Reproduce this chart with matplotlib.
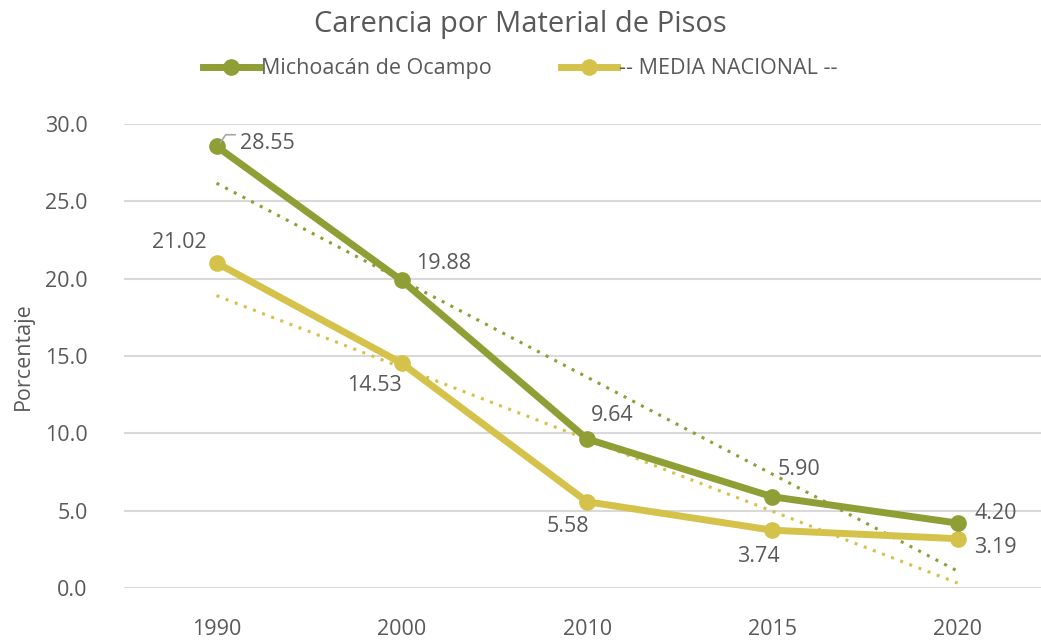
import numpy as np
import matplotlib.pyplot as plt

plt.rcParams['font.family'] = ['Open Sans', 'DejaVu Sans']

years = ['1990', '2000', '2010', '2015', '2020']
michoacan = [28.55, 19.88, 9.64, 5.90, 4.20]
nacional = [21.02, 14.53, 5.58, 3.74, 3.19]

c_mich = '#8f9e35'
c_nac = '#d4c24b'
gris = '#595959'
fs = 15.5

fig = plt.figure(figsize=(10.41, 6.42), dpi=100)
ax = fig.add_axes([0.119, 0.084, 0.881, 0.723])

x = np.arange(len(years))
ax.plot(x, michoacan, color=c_mich, lw=5, marker='o', ms=11, label='Michoacán de Ocampo', zorder=4)
ax.plot(x, nacional, color=c_nac, lw=5, marker='o', ms=11, label='-- MEDIA NACIONAL --', zorder=3)

# lineas de tendencia
for serie, col in [(michoacan, c_mich), (nacional, c_nac)]:
    m, b = np.polyfit(x, serie, 1)
    ax.plot(x, m * x + b, color=col, lw=2.2, ls=(0, (1, 2.2)), zorder=2)

# etiquetas de datos
off_m = [(17, 2), (10, 12), (3, 17), (4, 20), (12, 7)]
off_n = [(-7, 15), (-20, -16), (-14, -18), (-10, -19), (12, -6)]
ha_m = ['left', 'left', 'left', 'left', 'left']
ha_n = ['right', 'center', 'center', 'center', 'left']
for i in range(len(years)):
    ax.annotate(f'{michoacan[i]:.2f}', (x[i], michoacan[i]), xytext=off_m[i],
                textcoords='offset points', ha=ha_m[i], va='center', fontsize=fs, color=gris)
    ax.annotate(f'{nacional[i]:.2f}', (x[i], nacional[i]), xytext=off_n[i],
                textcoords='offset points', ha=ha_n[i], va='center', fontsize=fs, color=gris)
# linea guia del 28.55
ax.plot([0.02, 0.05, 0.1], [28.8, 29.3, 29.3], color='#a6a6a6', lw=1.2, zorder=5)

ax.set_xlim(-0.5, 4.45)
ax.set_ylim(0, 30)
ax.set_yticks(np.arange(0, 30.1, 5))
ax.set_yticklabels([f'{v:.1f}' for v in np.arange(0, 30.1, 5)])
ax.set_xticks(x)
ax.set_xticklabels(years)
ax.tick_params(axis='both', length=0, labelsize=fs, labelcolor=gris)
ax.tick_params(axis='x', pad=22)
ax.tick_params(axis='y', pad=26)
ax.grid(axis='y', color='#d9d9d9', lw=1.5)
ax.set_axisbelow(True)
for s in ax.spines.values():
    s.set_visible(False)

ax.set_ylabel('Porcentaje', fontsize=fs, color=gris, labelpad=8)

fig.text(0.50, 0.962, 'Carencia por Material de Pisos', ha='center', va='center',
         fontsize=21, color=gris)
fig.legend(loc='center', bbox_to_anchor=(0.50, 0.893), ncol=2, frameon=False,
           fontsize=fs, labelcolor=gris, handlelength=2.6, handletextpad=0.1,
           columnspacing=3.2)

plt.savefig('out.png', dpi=100)
